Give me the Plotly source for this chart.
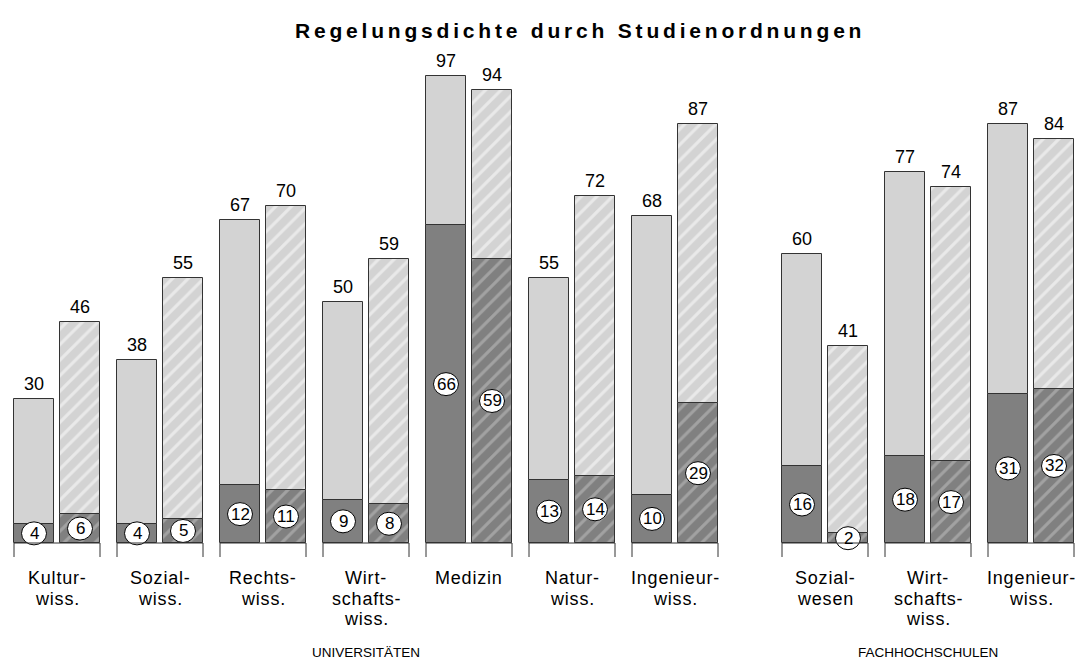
import plotly.graph_objects as go

# ---- data ----
categories = ["Kultur-<br>wiss.", "Sozial-<br>wiss.", "Rechts-<br>wiss.", "Wirt-<br>schafts-<br>wiss.",
              "Medizin", "Natur-<br>wiss.", "Ingenieur-<br>wiss.",
              "Sozial-<br>wesen", "Wirt-<br>schafts-<br>wiss.", "Ingenieur-<br>wiss."]
sector = ["UNIVERSITÄTEN"] * 7 + ["FACHHOCHSCHULEN"] * 3
total_a = [30, 38, 67, 50, 97, 55, 68, 60, 77, 87]
core_a = [4, 4, 12, 9, 66, 13, 10, 16, 18, 31]
total_b = [46, 55, 70, 59, 94, 72, 87, 41, 74, 84]
core_b = [6, 5, 11, 8, 59, 14, 29, 2, 17, 32]
title = "Regelungsdichte durch Studienordnungen"

# ---- layout geometry (pixels) ----
W, H = 1087, 668
BASE_PX = 543
K = 4.814  # px per unit
BAR_W = 40
group_start = [14 + 103 * i for i in range(7)] + [782 + 103 * j for j in range(3)]
xa = [s + 20 for s in group_start]
xb = [s + 66 for s in group_start]

LIGHT = "#d3d3d3"
DARK = "#808080"
EDGE = "#333333"
FONT = "Liberation Sans, Arial, sans-serif"


def py(p):
    """pixel row -> paper y"""
    return 1 - p / H


fig = go.Figure()


def bars(x, base, y, color, hatched, hatch_color):
    pattern = dict(shape="/", fgcolor=hatch_color, size=11, solidity=0.28) if hatched else dict(shape="")
    fig.add_trace(go.Bar(x=x, y=y, base=base, width=BAR_W,
                         marker=dict(color=color, line=dict(color=EDGE, width=1), pattern=pattern),
                         showlegend=False, hoverinfo="skip"))


# solid series
bars(xa, [0] * len(core_a), core_a, DARK, False, None)
bars(xa, core_a, [t - c for t, c in zip(total_a, core_a)], LIGHT, False, None)
# hatched series
bars(xb, [0] * len(core_b), core_b, DARK, True, "#c4c4c4")
bars(xb, core_b, [t - c for t, c in zip(total_b, core_b)], LIGHT, True, "white")

annotations = []
shapes = []

# circled core values
CW, CH = 25, 23
for xs, cores in ((xa, core_a), (xb, core_b)):
    for x, c in zip(xs, cores):
        yc = c / 2
        shapes.append(dict(type="circle", xref="x", yref="y",
                           x0=x - CW / 2, x1=x + CW / 2, y0=yc - CH / 2 / K, y1=yc + CH / 2 / K,
                           fillcolor="white", line=dict(color="black", width=1), layer="above"))
        annotations.append(dict(x=x, y=yc, xref="x", yref="y", text=str(c), showarrow=False,
                                yanchor="middle", xanchor="center",
                                font=dict(family=FONT, size=17, color="black")))

# total labels
for xs, tots in ((xa, total_a), (xb, total_b)):
    for x, t in zip(xs, tots):
        annotations.append(dict(x=x, y=t, xref="x", yref="y", text=str(t), showarrow=False,
                                yanchor="bottom", yshift=3,
                                font=dict(family=FONT, size=18, color="black")))

# category labels (one annotation per line for exact spacing)
for s, c in zip(group_start, categories):
    for k, line in enumerate(c.split("<br>")):
        annotations.append(dict(x=s + 43, y=py(578 + 20.5 * k), xref="x", yref="paper",
                                text=f"<span style='letter-spacing:0.8px'>{line}</span>",
                                showarrow=False, yanchor="middle", xanchor="center",
                                font=dict(family=FONT, size=18, color="black")))

# sector labels
for name in dict.fromkeys(sector):
    idx = [i for i, s in enumerate(sector) if s == name]
    cx = (group_start[idx[0]] + group_start[idx[-1]] + 86) / 2
    annotations.append(dict(x=cx, y=py(652), xref="x", yref="paper", text=name,
                            showarrow=False, yanchor="middle",
                            font=dict(family=FONT, size=13.5, color="black")))

# title
annotations.append(dict(x=580 / W, y=py(31), xref="paper", yref="paper",
                        text=f"<b><span style='letter-spacing:3.8px'>{title}</span></b>",
                        showarrow=False, yanchor="middle",
                        font=dict(family=FONT, size=21, color="black")))

# group brackets: baseline and end ticks
tick_bottom = -(557 - BASE_PX) / K
for s in group_start:
    shapes.append(dict(type="line", x0=s, x1=s + 86, y0=0, y1=0, line=dict(color=EDGE, width=1)))
    for xe in (s, s + 86):
        shapes.append(dict(type="line", x0=xe, x1=xe, y0=0, y1=tick_bottom, line=dict(color=EDGE, width=1)))

fig.update_layout(
    width=W, height=H, margin=dict(l=0, r=0, t=0, b=0),
    paper_bgcolor="white", plot_bgcolor="white",
    barmode="overlay", bargap=0,
    xaxis=dict(range=[0, W], visible=False, fixedrange=True),
    yaxis=dict(range=[-(H - BASE_PX) / K, BASE_PX / K], visible=False, fixedrange=True),
    annotations=annotations, shapes=shapes,
)

fig.write_html("out.html", config={"displayModeBar": False},
               post_script="document.body.style.margin='0';")
